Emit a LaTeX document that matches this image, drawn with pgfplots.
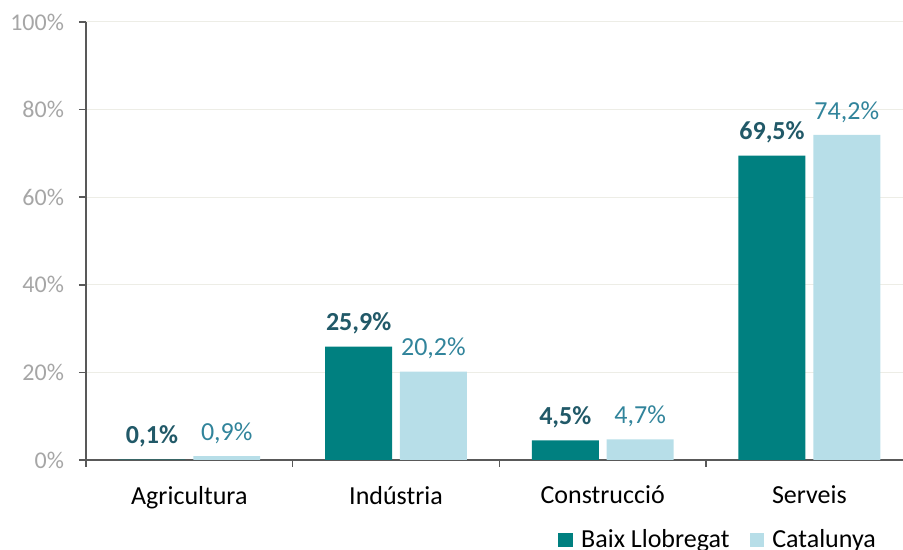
\documentclass[border=0pt]{standalone}
\usepackage{fontspec}
\setmainfont{Carlito}
\usepackage{pgfplots}
\pgfplotsset{compat=1.18}
\definecolor{baix}{HTML}{008080}
\definecolor{cat}{HTML}{B7DEE8}
\definecolor{baixlbl}{HTML}{215968}
\definecolor{catlbl}{HTML}{31849B}
\definecolor{tickgray}{HTML}{A6A6A6}
\definecolor{axisgray}{HTML}{595959}
\definecolor{gridc}{HTML}{EDEDE6}
\begin{document}
\begin{tikzpicture}
\begin{axis}[
  scale only axis, width=408.5pt, height=219pt,
  xmin=-0.5, xmax=3.453, ymin=0, ymax=100,
  axis x line=bottom, axis y line=left,
  axis line style={-, axisgray, line width=0.8pt},
  xtick={0,1,2,3},
  xticklabels={Agricultura, Indústria, Construcció, Serveis},
  minor xtick={-0.5,0.5,1.5,2.5},
  major x tick style={draw=none},
  minor x tick style={axisgray, line width=0.8pt},
  minor tick length=3.5pt,
  major tick length=3.5pt,
  tick align=outside,
  ytick={0,20,...,100},
  yticklabels={0\%,20\%,40\%,60\%,80\%,100\%},
  y tick style={axisgray, line width=0.8pt},
  ymajorgrids, grid style={gridc, line width=0.5pt},
  y tick label style={font=\fontsize{12}{14}\selectfont, text=tickgray, xshift=-4pt},
  x tick label style={font=\fontsize{13}{15}\selectfont, text=black, yshift=-6pt},
  legend style={at={(axis description cs:0.5704,-0.1826)}, anchor=west,
    draw=none, fill=none, legend columns=-1,
    font=\fontsize{13}{15}\selectfont,
    /tikz/every odd column/.append style={column sep=2pt},
    /tikz/every even column/.append style={column sep=8pt}},
  legend image code/.code={\fill[#1, draw=none] (0pt,-3.7pt) rectangle (7.4pt,3.7pt);},
  clip=false,
]
\addplot[ybar, bar width=0.324, bar shift=-0.181, fill=baix, draw=none,
  nodes near coords={\pgfmathprintnumber[fixed,fixed zerofill,precision=1,use comma,assume math mode=true]{\pgfplotspointmeta}\%},
  every node near coord/.append style={font=\fontsize{13}{15}\selectfont\bfseries, text=baixlbl, anchor=south, inner sep=0pt, xshift=-18.7pt, yshift=6pt}]
  coordinates {(0,0.1) (1,25.9) (2,4.5) (3,69.5)};
\addlegendentry{Baix Llobregat}
\addplot[ybar, bar width=0.324, bar shift=0.181, fill=cat, draw=none,
  nodes near coords={\pgfmathprintnumber[fixed,fixed zerofill,precision=1,use comma,assume math mode=true]{\pgfplotspointmeta}\%},
  every node near coord/.append style={font=\fontsize{13}{15}\selectfont, text=catlbl, anchor=south, inner sep=0pt, xshift=18.7pt, yshift=6pt}]
  coordinates {(0,0.9) (1,20.2) (2,4.7) (3,74.2)};
\addlegendentry{Catalunya}
\coordinate (o) at (rel axis cs:0,0);
\end{axis}
\pgfresetboundingbox
\path[use as bounding box] ([shift={(-43pt,-45pt)}]o) rectangle ([shift={(408.5pt,230pt)}]o);
\end{tikzpicture}
\end{document}
